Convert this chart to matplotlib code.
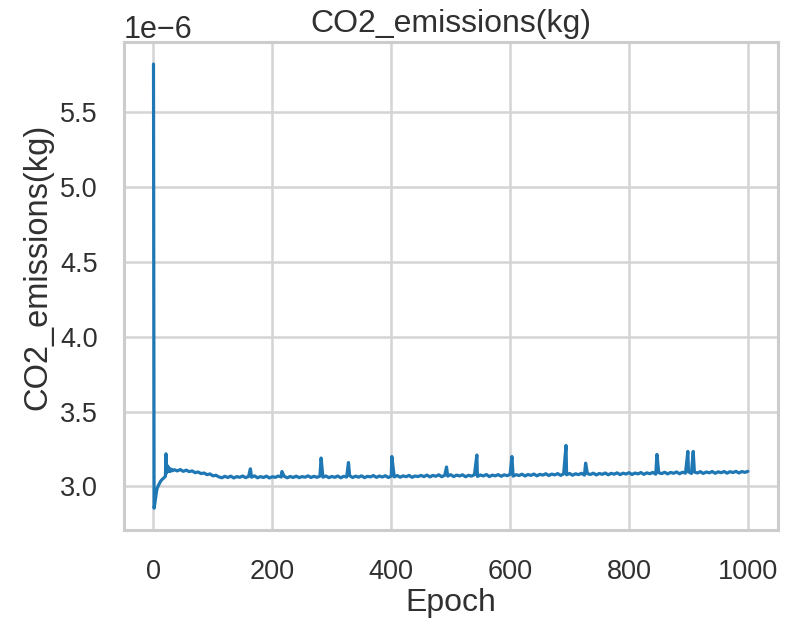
import numpy as np
import matplotlib
matplotlib.use("Agg")
import matplotlib.pyplot as plt
import seaborn as sns

# Per-epoch CO2 emissions, in units of 1e-6 kg
# Warm-up epochs (first epoch is the expensive one)
epochs_early = [0, 1, 2, 3, 4, 5, 6, 8, 10, 12, 14, 16, 18, 20, 21, 22, 23,
                24, 25, 26, 27, 28, 30, 32]
co2_early = [5.82, 2.855, 2.88, 2.91, 2.94, 2.965, 2.985, 3.005, 3.02, 3.035,
             3.045, 3.052, 3.06, 3.068, 3.218, 3.09, 3.14, 3.10, 3.13, 3.105,
             3.12, 3.10, 3.115, 3.105]

# Steady-state readings every 5 epochs from epoch 35 to 1000
epochs_steady = list(range(35, 1001, 5))
co2_steady = [
    # 35-60
    3.112, 3.104, 3.113, 3.101, 3.109, 3.099,
    # 65-110
    3.104, 3.092, 3.097, 3.086, 3.090, 3.079, 3.084, 3.071, 3.075, 3.064,
    # 115-300
    3.058, 3.068, 3.060, 3.069, 3.057, 3.066, 3.061, 3.070, 3.059, 3.067,
    3.062, 3.071, 3.058, 3.066, 3.060, 3.069, 3.057, 3.065, 3.061, 3.070,
    3.063, 3.068, 3.058, 3.067, 3.060, 3.069, 3.059, 3.066, 3.062, 3.071,
    3.060, 3.068, 3.061, 3.069, 3.062, 3.070, 3.059, 3.067,
    # 305-450
    3.061, 3.070, 3.058, 3.068, 3.063, 3.072, 3.060, 3.069, 3.062, 3.071,
    3.059, 3.068, 3.064, 3.073, 3.061, 3.070, 3.063, 3.072, 3.060, 3.069,
    3.064, 3.073, 3.062, 3.071, 3.065, 3.074, 3.061, 3.070, 3.066, 3.074,
    # 455-650
    3.066, 3.076, 3.064, 3.074, 3.068, 3.078, 3.065, 3.075, 3.069, 3.079,
    3.066, 3.076, 3.070, 3.078, 3.065, 3.075, 3.069, 3.079, 3.067, 3.077,
    3.070, 3.080, 3.066, 3.076, 3.071, 3.079, 3.068, 3.078, 3.072, 3.081,
    3.069, 3.079, 3.073, 3.082, 3.070, 3.080, 3.074, 3.083, 3.071, 3.081,
    # 655-850
    3.076, 3.085, 3.073, 3.083, 3.077, 3.086, 3.074, 3.084, 3.078, 3.087,
    3.075, 3.085, 3.079, 3.088, 3.076, 3.086, 3.080, 3.089, 3.077, 3.087,
    3.081, 3.090, 3.078, 3.088, 3.082, 3.091, 3.079, 3.089, 3.083, 3.092,
    3.080, 3.090, 3.084, 3.093, 3.081, 3.091, 3.085, 3.094, 3.082, 3.092,
    # 855-1000
    3.086, 3.095, 3.084, 3.094, 3.088, 3.097, 3.085, 3.095, 3.089, 3.098,
    3.087, 3.096, 3.090, 3.099, 3.087, 3.097, 3.091, 3.100, 3.088, 3.098,
    3.092, 3.100, 3.089, 3.099, 3.093, 3.101, 3.090, 3.100, 3.094, 3.101,
]

# Isolated slow epochs
spike_epochs = [163, 216, 282, 328, 401, 493, 544, 603, 694, 727, 847, 899, 908]
spike_co2 = [3.118, 3.100, 3.190, 3.160, 3.200, 3.130, 3.210, 3.200, 3.274,
             3.156, 3.214, 3.234, 3.234]

# Merge everything into one epoch-ordered series
all_epochs = np.array(epochs_early + epochs_steady + spike_epochs)
all_co2 = np.array(co2_early + co2_steady + spike_co2) * 1e-6
order = np.argsort(all_epochs, kind="stable")
epoch = all_epochs[order]
co2 = all_co2[order]

sns.set_theme(style="whitegrid", context="talk")
plt.rcParams["font.family"] = ["Liberation Sans", "DejaVu Sans"]
plt.rcParams["axes.edgecolor"] = "#cccccc"
plt.rcParams["grid.color"] = "#d4d4d4"

text_color = "#303030"

fig = plt.figure(figsize=(7.96, 6.2), dpi=100)
ax = fig.add_axes([0.1555, 0.1445, 0.8214, 0.788])

ax.plot(epoch, co2, color="#1f77b4", linewidth=2.3)

ax.set_title("CO2_emissions(kg)", fontsize=23, color=text_color, pad=7)
ax.set_xlabel("Epoch", fontsize=23, color=text_color, labelpad=2)
ax.set_ylabel("CO2_emissions(kg)", fontsize=23.5, color=text_color)
ax.yaxis.set_label_coords(-0.107, 0.54)
ax.tick_params(axis="both", labelsize=19.5, colors=text_color)
ax.tick_params(axis="x", pad=11.5)
ax.tick_params(axis="y", pad=9.5)
ax.yaxis.get_offset_text().set_fontsize(22)
ax.yaxis.get_offset_text().set_color(text_color)
ax.set_xticks([0, 200, 400, 600, 800, 1000])

for s in ax.spines.values():
    s.set_linewidth(2.2)
    s.set_color("#cccccc")
ax.grid(True, linewidth=1.8)

fig.savefig("out.png", dpi=100)
